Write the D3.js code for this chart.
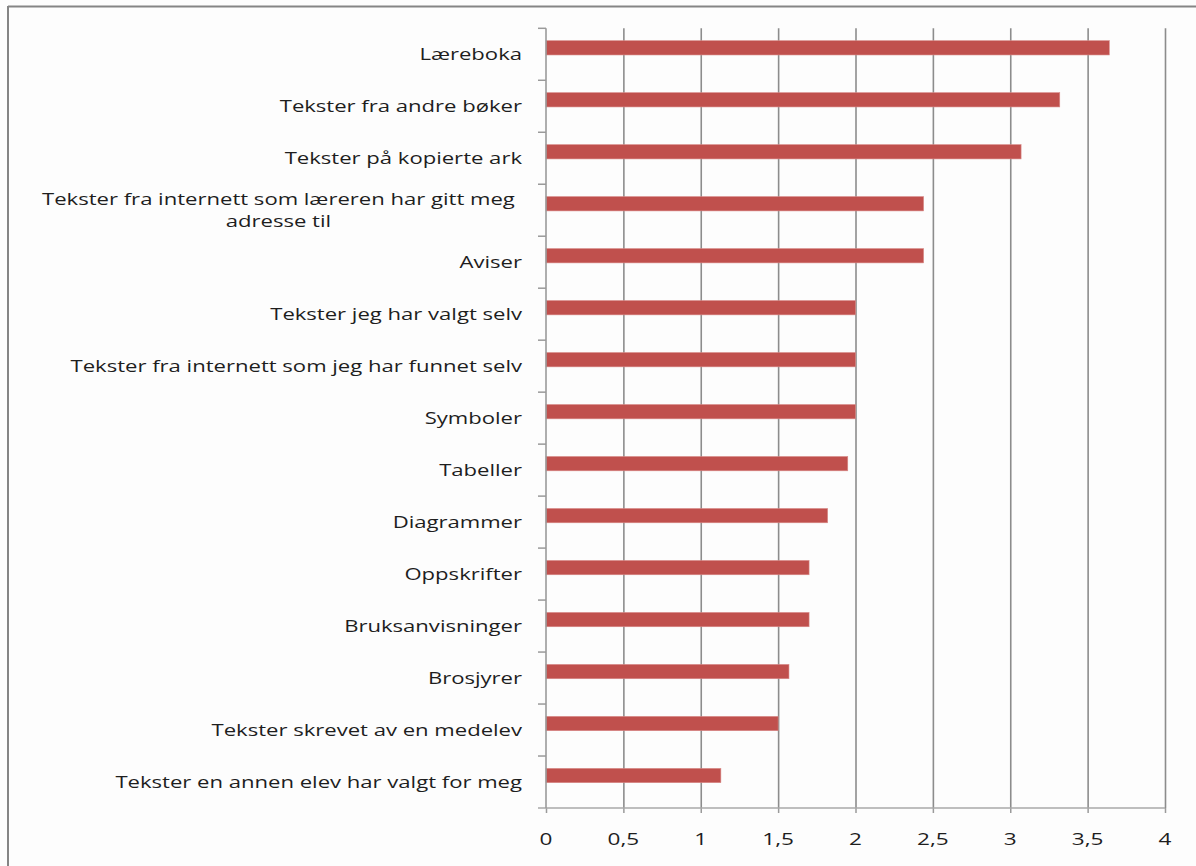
<!DOCTYPE html>
<html>
<head>
<meta charset="utf-8">
<script src="https://cdn.jsdelivr.net/npm/d3@7"></script>
<style>
  html, body { margin: 0; padding: 0; background: #fdfdfd; }
  svg { display: block; }
  text { font-family: "Open Sans", "DejaVu Sans", sans-serif; fill: #1e1e1e; }
</style>
</head>
<body>
<script>
// ---- Data ----
const categories = [
  "Læreboka",
  "Tekster fra andre bøker",
  "Tekster på kopierte ark",
  "Tekster fra internett som læreren har gitt meg|adresse til",
  "Aviser",
  "Tekster jeg har valgt selv",
  "Tekster fra internett som jeg har funnet selv",
  "Symboler",
  "Tabeller",
  "Diagrammer",
  "Oppskrifter",
  "Bruksanvisninger",
  "Brosjyrer",
  "Tekster skrevet av en medelev",
  "Tekster en annen elev har valgt for meg"
];
const values = [3.64, 3.32, 3.07, 2.44, 2.44, 2.0, 2.0, 2.0, 1.95, 1.82, 1.70, 1.70, 1.57, 1.50, 1.13];
const xTicks = [0, 0.5, 1, 1.5, 2, 2.5, 3, 3.5, 4];
const xTickLabels = ["0", "0,5", "1", "1,5", "2", "2,5", "3", "3,5", "4"];

// ---- Layout ----
const W = 1196, H = 866;
const plot = { left: 546, right: 1165, top: 28.3, bottom: 808 };
const SX = 1.38;          // horizontal stretch of text as in the reference
const SX_TICK = 1.33;
const FONT = 16;
const barColor = "#C0504D";

const svg = d3.select("body").append("svg").attr("width", W).attr("height", H);
svg.append("rect").attr("width", W).attr("height", H).attr("fill", "#fdfdfd");

// frame (top and left edges visible)
svg.append("line").attr("x1", 8).attr("x2", W).attr("y1", 6.5).attr("y2", 6.5)
  .attr("stroke", "#858585").attr("stroke-width", 2);
svg.append("line").attr("x1", 8).attr("x2", 8).attr("y1", 6).attr("y2", H)
  .attr("stroke", "#858585").attr("stroke-width", 2);

const x = d3.scaleLinear().domain([0, 4]).range([plot.left, plot.right]);
const y = d3.scaleBand().domain(categories).range([plot.top, plot.bottom]).padding(0);

// gridlines
const grid = svg.append("g")
  .attr("transform", `translate(0,${plot.bottom})`)
  .call(d3.axisBottom(x).tickValues(xTicks.filter(d => d > 0))
    .tickSize(-(plot.bottom - plot.top)).tickFormat(""));
grid.select(".domain").remove();
grid.selectAll(".tick line").attr("stroke", "#8c8c8c").attr("stroke-width", 1.6);

// bars
svg.append("g").selectAll("rect").data(categories).join("rect")
  .attr("x", x(0))
  .attr("y", d => y(d) + y.bandwidth() * 0.238)
  .attr("width", (d, i) => x(values[i]) - x(0))
  .attr("height", y.bandwidth() * 0.275)
  .attr("fill", barColor)
  .attr("stroke", "#d88a88").attr("stroke-width", 0.6);

// x axis
const xAxis = svg.append("g")
  .attr("transform", `translate(0,${plot.bottom})`)
  .call(d3.axisBottom(x).tickValues(xTicks).tickSize(5).tickFormat(""));
xAxis.select(".domain").remove();
xAxis.selectAll(".tick line").attr("stroke", "#9a9a9a").attr("stroke-width", 1.5);
svg.append("line").attr("x1", plot.left - 8).attr("x2", plot.right)
  .attr("y1", plot.bottom).attr("y2", plot.bottom)
  .attr("stroke", "#a8a8a8").attr("stroke-width", 1.6);

svg.append("g").selectAll("text").data(xTicks).join("text")
  .attr("transform", d => `translate(${x(d)},${plot.bottom + 31}) scale(${SX_TICK},1)`)
  .attr("text-anchor", "middle").attr("dy", "0.35em")
  .style("font-size", "17px")
  .text((d, i) => xTickLabels[i]);

// y axis line and boundary ticks
svg.append("line").attr("x1", plot.left).attr("x2", plot.left)
  .attr("y1", plot.top).attr("y2", plot.bottom)
  .attr("stroke", "#9a9a9a").attr("stroke-width", 1.6);
const bounds = categories.map(c => y(c));
svg.append("g").selectAll("line").data(bounds).join("line")
  .attr("x1", plot.left - 8).attr("x2", plot.left)
  .attr("y1", d => d).attr("y2", d => d)
  .attr("stroke", "#9a9a9a").attr("stroke-width", 1.5);

// category labels
const labelRight = plot.left - 24;
const lg = svg.append("g");
categories.forEach(c => {
  const lines = c.split("|");
  const yc = y(c) + y.bandwidth() / 2;
  if (lines.length === 1) {
    lg.append("text")
      .attr("transform", `translate(${labelRight},${yc}) scale(${SX},1)`)
      .attr("text-anchor", "end").attr("dy", "0.35em")
      .style("font-size", FONT + "px")
      .text(c);
  } else {
    const lh = 22;
    const g = lg.append("g");
    const ts = lines.map((ln, k) => g.append("text")
      .attr("text-anchor", "middle").attr("dy", "0.35em")
      .style("font-size", FONT + "px")
      .text(ln));
    const maxW = d3.max(ts, t => t.node().getComputedTextLength()) * SX;
    const cx = labelRight - 7 - maxW / 2;
    ts.forEach((t, k) => {
      const yy = yc + (k - (lines.length - 1) / 2) * lh;
      t.attr("transform", `translate(${cx},${yy}) scale(${SX},1)`);
    });
  }
});
</script>
</body>
</html>
